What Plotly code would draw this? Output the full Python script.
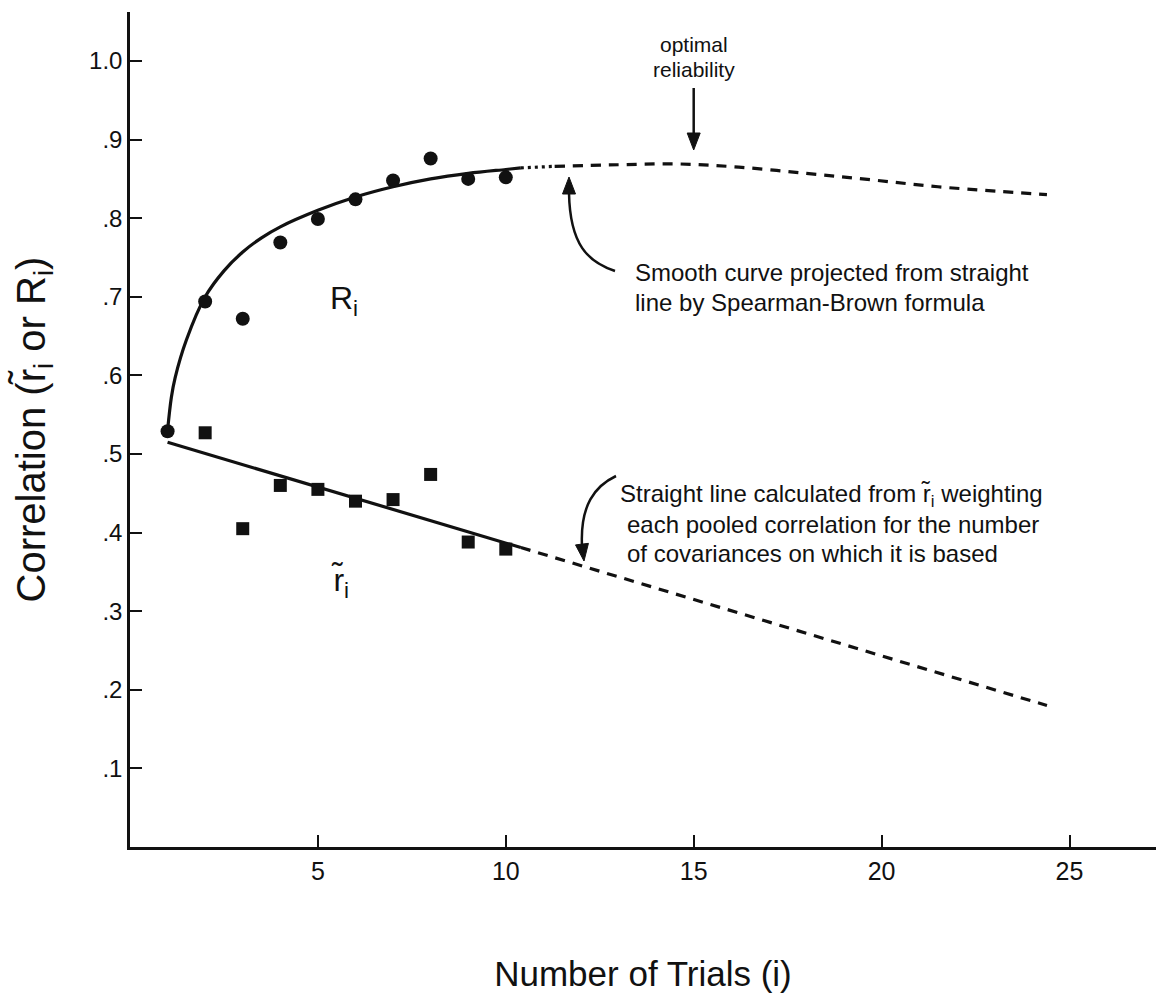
import math
import plotly.graph_objects as go

# ---------------- data ----------------
trials = [1, 2, 3, 4, 5, 6, 7, 8, 9, 10]
R_observed = [0.529, 0.694, 0.672, 0.769, 0.799, 0.824, 0.848, 0.876, 0.850, 0.852]

r_trials = [2, 3, 4, 5, 6, 7, 8, 9, 10]
r_observed = [0.527, 0.405, 0.460, 0.455, 0.440, 0.442, 0.474, 0.388, 0.379]

# straight (weighted) line for r~ and its projection
fit_x = [1.0, 10.4]
fit_y = [0.515, 0.381]
fit_proj_x = [10.4, 24.4]
fit_proj_y = [0.381, 0.180]

# Spearman-Brown smooth curve (as drawn) and its projection
sb_x = [1.0, 1.1, 1.2, 1.5, 2.0, 2.5, 3.0, 3.5, 4.0, 5.0, 6.0, 7.0, 8.0, 9.0, 10.0, 10.4]
sb_y = [0.530, 0.572, 0.597, 0.645, 0.700, 0.733, 0.757, 0.775, 0.789, 0.810, 0.827,
        0.840, 0.850, 0.857, 0.862, 0.864]
sb_proj_x = [10.4, 11.3, 13.0, 14.6, 16.2, 18.0, 19.7, 21.5, 24.4]
sb_proj_y = [0.864, 0.866, 0.868, 0.869, 0.865, 0.857, 0.849, 0.840, 0.830]

optimal_trials = 15

y_ticks = [0.1, 0.2, 0.3, 0.4, 0.5, 0.6, 0.7, 0.8, 0.9, 1.0]
y_tick_labels = [".1", ".2", ".3", ".4", ".5", ".6", ".7", ".8", ".9", "1.0"]
x_ticks = [5, 10, 15, 20, 25]
x_tick_labels = ["5", "10", "15", "20", "25"]

# ---------------- layout geometry ----------------
W, H = 1157, 1006
ML, MR, MT, MB = 130, 1, 12, 159
PX_PER_X = 37.58
PX_PER_Y = 786.0
X_MAX = (W - ML - MR) / PX_PER_X
Y_MAX = (H - MT - MB) / PX_PER_Y
Y0_PX = H - MB


def dx(p):
    return (p - ML) / PX_PER_X


def dy(p):
    return (Y0_PX - p) / PX_PER_Y


def head(tx, ty, ux, uy, length=17.0, half=6.5):
    """filled arrowhead path (pixel geometry converted to data space); (ux,uy) = pointing direction"""
    n = math.hypot(ux, uy)
    ux, uy = ux / n, uy / n
    bx, by = tx - ux * length, ty - uy * length
    px, py = -uy, ux
    p1 = (bx + px * half, by + py * half)
    p2 = (bx - px * half, by - py * half)
    return (f"M {dx(tx)},{dy(ty)} L {dx(p1[0])},{dy(p1[1])} "
            f"L {dx(p2[0])},{dy(p2[1])} Z")


FONT = "Liberation Sans, Arial, Helvetica, sans-serif"
BLACK = "#111111"

fig = go.Figure()

fig.add_trace(go.Scatter(x=sb_x, y=sb_y, mode="lines", line=dict(color=BLACK, width=3.2, shape="spline"),
                         name="R_i curve", showlegend=False, hoverinfo="skip"))
# short dotted bridge, then the dashed projection
fig.add_trace(go.Scatter(x=sb_proj_x[:2], y=sb_proj_y[:2], mode="lines",
                         line=dict(color=BLACK, width=3.2, dash="3px,4px"),
                         name="R_i projected (bridge)", showlegend=False, hoverinfo="skip"))
fig.add_trace(go.Scatter(x=sb_proj_x[1:], y=sb_proj_y[1:], mode="lines",
                         line=dict(color=BLACK, width=3.2, dash="10px,8px", shape="spline"),
                         name="R_i projected", showlegend=False, hoverinfo="skip"))
fig.add_trace(go.Scatter(x=fit_x, y=fit_y, mode="lines", line=dict(color=BLACK, width=3.2),
                         name="r_i line", showlegend=False, hoverinfo="skip"))
fig.add_trace(go.Scatter(x=fit_proj_x, y=fit_proj_y, mode="lines",
                         line=dict(color=BLACK, width=3.2, dash="10px,8px"),
                         name="r_i projected", showlegend=False, hoverinfo="skip"))
fig.add_trace(go.Scatter(x=trials, y=R_observed, mode="markers",
                         marker=dict(symbol="circle", size=14, color=BLACK),
                         name="R_i", showlegend=False))
fig.add_trace(go.Scatter(x=r_trials, y=r_observed, mode="markers",
                         marker=dict(symbol="square", size=13, color=BLACK),
                         name="r_i", showlegend=False))

ann = []
TXT = dict(family=FONT, size=24, color=BLACK)
SMALL = dict(family=FONT, size=21, color=BLACK)

# optimal reliability
ann.append(dict(x=optimal_trials, y=dy(44), text="optimal", showarrow=False,
                font=SMALL, xanchor="center", yanchor="middle"))
ann.append(dict(x=optimal_trials, y=dy(69), text="reliability", showarrow=False,
                font=SMALL, xanchor="center", yanchor="middle"))

# Spearman-Brown note
ann.append(dict(x=dx(633), y=dy(272), text="Smooth curve projected from straight", showarrow=False,
                font=TXT, xanchor="left", yanchor="middle"))
ann.append(dict(x=dx(633), y=dy(302), text="line by Spearman-Brown formula", showarrow=False,
                font=TXT, xanchor="left", yanchor="middle"))

# straight line note
ann.append(dict(x=dx(618), y=dy(495), text="Straight line calculated from r\u0303<sub>i</sub> weighting",
                showarrow=False, font=TXT, xanchor="left", yanchor="middle"))
ann.append(dict(x=dx(625), y=dy(524), text="each pooled correlation for the number", showarrow=False,
                font=TXT, xanchor="left", yanchor="middle"))
ann.append(dict(x=dx(625), y=dy(553), text="of covariances on which it is based", showarrow=False,
                font=TXT, xanchor="left", yanchor="middle"))

# series labels
ann.append(dict(x=dx(344), y=dy(300), text="R<sub>i</sub>", showarrow=False,
                font=dict(family=FONT, size=32, color=BLACK)))
ann.append(dict(x=dx(340), y=dy(582), text="r\u0303<sub>i</sub>", showarrow=False,
                font=dict(family=FONT, size=32, color=BLACK)))

ox = dx(700)
shapes = [
    # optimal reliability arrow
    dict(type="line", xref="x", yref="y", x0=optimal_trials, x1=optimal_trials, y0=dy(88), y1=dy(134),
         line=dict(color=BLACK, width=2.5)),
    dict(type="path", xref="x", yref="y", path=head(700 + (optimal_trials - ox) * PX_PER_X, 150, 0, 1),
         fillcolor=BLACK, line=dict(color=BLACK, width=1)),
    # curved arrow to the smooth curve
    dict(type="path", xref="x", yref="y",
         path=f"M {dx(615)},{dy(271)} C {dx(588)},{dy(262)} {dx(570)},{dy(245)} {dx(569)},{dy(193)}",
         line=dict(color=BLACK, width=2.5)),
    dict(type="path", xref="x", yref="y", path=head(569, 177, 0, -1),
         fillcolor=BLACK, line=dict(color=BLACK, width=1)),
    # curved arrow to the straight line
    dict(type="path", xref="x", yref="y",
         path=f"M {dx(616)},{dy(476)} C {dx(595)},{dy(486)} {dx(580)},{dy(505)} {dx(582)},{dy(546)}",
         line=dict(color=BLACK, width=2.5)),
    dict(type="path", xref="x", yref="y", path=head(584, 561, 0.12, 1),
         fillcolor=BLACK, line=dict(color=BLACK, width=1)),
]

fig.update_layout(
    width=W, height=H,
    margin=dict(l=ML, r=MR, t=MT, b=MB, autoexpand=False),
    paper_bgcolor="white", plot_bgcolor="white",
    font=dict(family=FONT, color=BLACK, size=24),
    annotations=ann, shapes=shapes,
    xaxis=dict(range=[0, X_MAX], tickvals=x_ticks, ticktext=x_tick_labels,
               showgrid=False, zeroline=False, showline=True, linecolor=BLACK, linewidth=2.5,
               ticks="inside", ticklen=12, tickwidth=2, tickcolor=BLACK,
               tickfont=dict(family=FONT, size=25, color=BLACK),
               title=dict(text="Number of Trials (i)", font=dict(family=FONT, size=35, color=BLACK),
                          standoff=78)),
    yaxis=dict(range=[0, Y_MAX], tickvals=y_ticks, ticktext=y_tick_labels,
               showgrid=False, zeroline=False, showline=True, linecolor=BLACK, linewidth=2.5,
               ticks="inside", ticklen=12, tickwidth=2, tickcolor=BLACK,
               tickfont=dict(family=FONT, size=24, color=BLACK),
               title=dict(text="Correlation (r\u0303<sub>i</sub> or R<sub>i</sub>)",
                          font=dict(family=FONT, size=40, color=BLACK), standoff=32)),
)

fig.write_html("out.html", config={"displayModeBar": False},
               post_script="document.body.style.margin='0px';document.body.style.overflow='hidden';")
